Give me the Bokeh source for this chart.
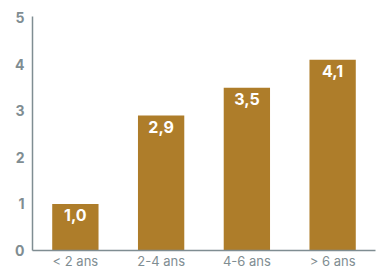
from bokeh.plotting import figure
from bokeh.models import ColumnDataSource, FixedTicker, Range1d
from bokeh.core.properties import value
from bokeh.embed import file_html
from bokeh.resources import INLINE

categories = ["< 2 ans", "2-4 ans", "4-6 ans", "> 6 ans"]
values = [1.0, 2.9, 3.5, 4.1]
labels = ["1,0", "2,9", "3,5", "4,1"]
y_ticks = [0, 1, 2, 3, 4, 5]

src = ColumnDataSource(dict(cat=categories, val=values, lab=labels))

p = figure(x_range=categories, width=376, height=271, output_backend="svg",
           toolbar_location=None, min_border_left=32, min_border_right=1,
           min_border_top=16, min_border_bottom=20)
p.y_range = Range1d(0, 5.03)
p.x_range.range_padding = 0.0

gold = "#ae7d2a"
gray = "#7f8d92"
p.vbar(x="cat", top="val", width=0.54, source=src, color=gold, line_color=None)
p.text(x="cat", y="val", text="lab", source=src, text_align="center", text_baseline="top",
       y_offset=5, text_color="white", text_font=value("Inter"), text_font_size="16px",
       text_font_style="bold")

p.outline_line_color = None
p.grid.grid_line_color = None
p.background_fill_color = "white"
p.border_fill_color = "white"

p.yaxis.ticker = FixedTicker(ticks=y_ticks)
for ax in (p.xaxis[0], p.yaxis[0]):
    ax.axis_line_color = gray
    ax.axis_line_width = 1.5
    ax.major_tick_line_color = None
    ax.minor_tick_line_color = None
    ax.major_tick_out = 0
    ax.major_tick_in = 0
    ax.minor_tick_out = 0
    ax.minor_tick_in = 0
    ax.major_label_text_color = gray
    ax.major_label_text_font = "Inter"
p.yaxis.major_label_text_font_size = "14px"
p.yaxis.major_label_text_font_style = "bold"
p.yaxis.major_label_standoff = 8
p.xaxis.major_label_text_font_size = "13px"
p.xaxis.major_label_standoff = 2

open("out.html", "w").write(file_html(p, INLINE))
